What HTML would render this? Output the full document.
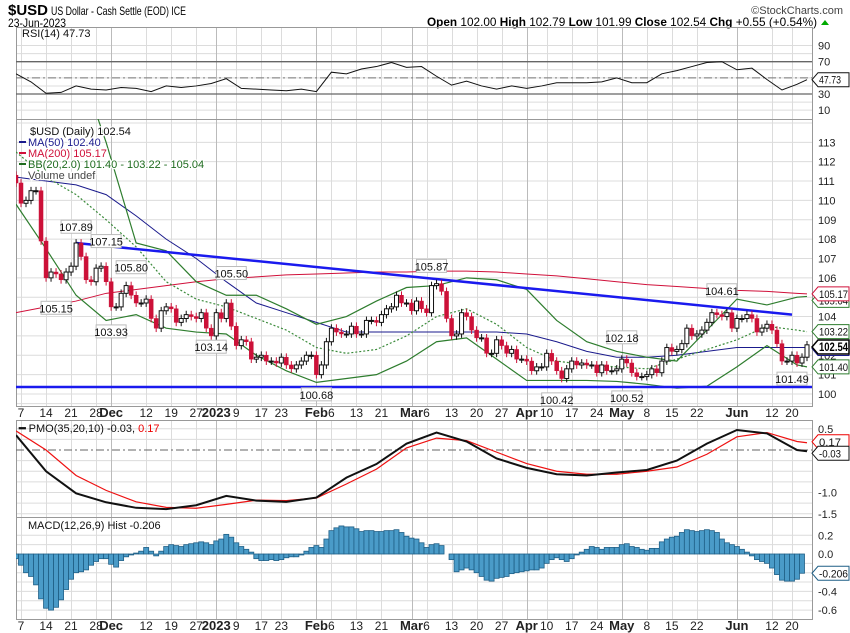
<!DOCTYPE html>
<html><head><meta charset="utf-8">
<style>
html,body{margin:0;padding:0;background:#fff;}
svg{display:block;font-family:"Liberation Sans",sans-serif;}
</style></head>
<body>
<svg id="chart" width="850" height="633" viewBox="0 0 850 633" xmlns="http://www.w3.org/2000/svg">
  <text x="8" y="15" font-size="15" font-weight="bold" textLength="40" lengthAdjust="spacingAndGlyphs">$USD</text>
  <text x="51" y="15" font-size="12" textLength="135" lengthAdjust="spacingAndGlyphs">US Dollar - Cash Settle (EOD) ICE</text>
  <text x="8" y="27" font-size="12" textLength="58" lengthAdjust="spacingAndGlyphs">23-Jun-2023</text>
  <text x="843" y="14" font-size="11" text-anchor="end" fill="#444">©StockCharts.com</text>
  <text x="427" y="26" font-size="12" textLength="390" lengthAdjust="spacingAndGlyphs"><tspan font-weight="bold">Open</tspan> 102.00 <tspan font-weight="bold">High</tspan> 102.79 <tspan font-weight="bold">Low</tspan> 101.99 <tspan font-weight="bold">Close</tspan> 102.54 <tspan font-weight="bold">Chg</tspan> +0.55 (+0.54%)</text>
  <path d="M821 25 L825 20 L829 25 Z" fill="#0a0"/>
  <g id="layer"></g>
</svg>
<script>
// ---------- DATA ----------
const closes = [110.9,
109.85,110.0,110.5,110.5,107.9,106.0,106.3,106.2,105.9,106.3,106.6,107.8,107.1,105.9,105.8,106.5,106.6,105.8,104.5,104.5,105.2,105.6,105.1,104.7,104.7,104.9,103.9,103.4,104.3,104.5,104.4,103.7,103.9,104.1,104.0,103.9,104.2,103.4,103.0,104.2,103.9,104.7,103.5,102.5,102.8,102.7,101.8,101.9,102.0,101.7,101.7,101.6,101.9,
101.5,101.3,101.5,101.7,102.0,102.0,101.0,101.5,102.7,103.4,103.2,103.1,103.1,103.5,103.1,103.1,103.8,103.8,103.7,104.1,104.4,104.5,105.1,104.7,104.7,104.3,104.8,104.4,104.2,105.6,105.7,105.3,103.9,103.0,103.1,104.2,104.0,103.3,102.9,102.9,102.1,102.1,102.8,102.5,102.1,102.3,101.8,101.8,101.7,101.2,101.4,101.4,102.1,
101.7,101.2,100.8,101.3,101.7,101.5,101.6,101.5,101.5,101.1,101.5,101.2,101.2,101.3,101.8,101.6,101.1,100.9,100.9,101.0,101.3,101.1,101.7,102.4,102.2,102.3,102.6,103.4,103.0,103.1,103.3,103.7,104.2,104.1,104.0,104.2,103.4,103.9,103.9,104.1,103.9,103.2,103.4,103.6,103.3,102.6,101.7,101.7,102.0,101.6,101.9,102.54];
const firstOpen = 111.3;
const ma50 = [111.2,111.0,110.8,110.3,109.2,108.0,107.0,105.8,104.7,104.2,103.7,103.2,103.2,103.2,103.2,103.2,103.2,103.1,102.7,102.2,101.9,101.9,102.0,102.2,102.4,102.4,102.4,102.40];
const ma200 = [104.2,104.5,104.8,105.2,105.4,105.6,105.8,105.95,106.05,106.15,106.2,106.25,106.3,106.3,106.35,106.35,106.3,106.2,106.1,105.95,105.8,105.65,105.55,105.45,105.35,105.3,105.2,105.17];
const bbUpper = [119,118.5,117.5,113.0,107.8,107.4,105.8,105.1,105.1,104.4,103.6,104.0,104.8,105.5,105.6,106.0,105.9,105.4,103.8,102.7,102.2,101.9,101.7,103.3,104.9,104.6,105.0,105.04];
const bbMid = [112.5,111.2,110.3,109.0,107.6,105.8,104.9,104.5,103.9,103.3,102.4,102.1,102.3,103.0,104.0,104.4,103.6,102.4,101.7,101.5,101.4,101.3,101.8,102.3,102.8,103.5,103.3,103.22];
const bbLower = [109.8,107.5,105.1,103.8,104.1,103.4,103.2,103.1,102.0,101.2,100.6,100.8,101.0,101.7,102.7,102.9,101.8,100.7,100.7,100.7,100.65,100.5,100.3,100.4,101.4,102.5,101.5,101.40];
const rsi = [55,45,31,32,40,36,35,38,37,33,40,38,40,43,49,37,36,35,34,36,33,57,55,61,64,69,63,64,52,41,46,40,36,40,37,40,44,44,44,45,50,44,44,55,59,64,69,70,60,62,48,35,42,47.73];
const pmo = [0.35,-0.50,-1.02,-1.23,-1.36,-1.39,-1.30,-1.08,-1.19,-1.22,-1.12,-0.65,-0.33,0.15,0.41,0.20,-0.20,-0.42,-0.57,-0.60,-0.53,-0.47,-0.25,0.15,0.47,0.39,0.00,-0.03];
const pmoSignal = [0.45,0.00,-0.60,-0.95,-1.22,-1.35,-1.37,-1.28,-1.18,-1.19,-1.13,-0.80,-0.45,0.05,0.28,0.22,-0.05,-0.32,-0.50,-0.57,-0.57,-0.50,-0.40,-0.10,0.31,0.41,0.20,0.17];
const macdHist = [-0.05,-0.12,-0.2,-0.24,-0.33,-0.48,-0.58,-0.6,-0.57,-0.49,-0.38,-0.27,-0.2,-0.19,-0.17,-0.12,-0.08,-0.05,-0.05,-0.11,-0.14,-0.07,-0.03,-0.01,0.01,0.03,0.07,0.03,-0.02,0.03,0.08,0.1,0.09,0.08,0.1,0.11,0.12,0.13,0.12,0.1,0.14,0.16,0.21,0.18,0.12,0.08,0.05,0.02,-0.05,-0.07,-0.07,-0.06,-0.07,-0.06,-0.04,-0.03,-0.03,-0.01,0.03,0.07,0.09,0.07,0.16,0.25,0.28,0.3,0.29,0.29,0.27,0.24,0.25,0.25,0.24,0.24,0.25,0.25,0.26,0.23,0.19,0.17,0.16,0.12,0.07,0.1,0.11,0.09,0.0,-0.06,-0.19,-0.17,-0.15,-0.17,-0.2,-0.24,-0.28,-0.29,-0.26,-0.25,-0.24,-0.21,-0.2,-0.19,-0.18,-0.17,-0.17,-0.15,-0.1,-0.06,-0.04,-0.06,-0.08,-0.05,-0.01,0.02,0.05,0.08,0.07,0.05,0.07,0.07,0.07,0.1,0.11,0.08,0.07,0.05,0.04,0.06,0.06,0.13,0.16,0.18,0.19,0.23,0.26,0.25,0.24,0.25,0.26,0.25,0.23,0.16,0.12,0.1,0.08,0.05,0.02,-0.02,-0.06,-0.08,-0.1,-0.15,-0.22,-0.28,-0.29,-0.29,-0.27,-0.206];
const trendStart = [12,107.8];
const trendEnd = [155,104.1];
const supportLevel = 100.36;
const peakLabels = [[12,107.89,'above'],[18,107.15,'above'],[23,105.80,'above'],[8,105.15,'below'],[19,103.93,'below'],[39,103.14,'below'],[43,105.50,'above'],[60,100.68,'below'],[83,105.87,'above'],[108,100.42,'below'],[122,100.52,'below'],[121,102.18,'above'],[141,104.61,'above'],[155,101.49,'below']];
const dateTicks = ['7','14','21','28','Dec','12','19','27','2023','9','17','23','Feb','6','13','21','Mar','6','13','20','27','Apr','10','17','24','May','8','15','22','Jun','12','20'];
const dateTickBars = [1,6,11,16,19,26,31,36,40,44,49,53,60,63,68,73,79,82,87,92,97,102,106,111,116,121,126,131,136,144,151,155];
const rsiTicks = [10,30,70,90];
const pmoTicks = [0.5,-1.0,-1.5];
const macdTicks = [0.2,0.0,-0.4,-0.6];

// ---------- SCALES ----------
const NS='http://www.w3.org/2000/svg';
const L=16, R=812;
const N=closes.length;
const step=(807-16)/(N-1);
const xBar=i=>16+i*step;
const yPrice=v=>394-(v-100)*19.36;
const yRsi=v=>61.7+(70-v)*0.808;
const yPmo=v=>450-v*42.5;
const yMacd=v=>554-v*93.5;
const panels={rsi:[27,119],price:[119,406],pmo:[420,517],macd:[517,619]};
const layer=document.getElementById('layer');
function el(tag,attrs,parent){const e=document.createElementNS(NS,tag);for(const k in attrs)e.setAttribute(k,attrs[k]);(parent||layer).appendChild(e);return e;}
function txt(s,attrs,parent){const e=el('text',attrs,parent);e.textContent=s;return e;}

const defs=el('defs',{});
for(const p in panels){const c=el('clipPath',{id:'clip-'+p},defs);el('rect',{x:L,y:panels[p][0],width:R-L,height:panels[p][1]-panels[p][0]},c);}

function panelGrid(name,hVals,yf){
  const g=el('g',{});
  
  
  const [t,b]=panels[name];
  hVals.forEach(v=>{const y=yf(v);if(y>t&&y<b)el('line',{x1:L,x2:R,y1:y,y2:y,stroke:'#dcdcdc','stroke-width':1},g);});
  dateTickBars.forEach((bi,k)=>{const x=Math.round(xBar(bi))+0.5;const bold=/[A-Za-z]|2023/.test(dateTicks[k]);el('line',{x1:x,x2:x,y1:t,y2:b,stroke:bold?'#bbb':'#dcdcdc','stroke-width':1},g);});
  const fr=el('rect',{x:L+0.5,y:t+0.5,width:R-L,height:b-t,fill:'none',stroke:'#999','stroke-width':1});
  
  
}
panelGrid('rsi',[10,20,40,50,60,80,90],yRsi);
panelGrid('price',[99.5,100,101,102,103,104,105,106,107,108,109,110,111,112,113,114],yPrice);
panelGrid('pmo',[0.5,0.25,-0.25,-0.5,-0.75,-1.0,-1.25,-1.5],yPmo);
panelGrid('macd',[0.2,0.1,-0.1,-0.2,-0.3,-0.4,-0.5,-0.6],yMacd);

function dateAxis(y,name){
  const g=el('g',{});
  
  
  dateTicks.forEach((s,k)=>{const bold=/[A-Za-z]|2023/.test(s);
    const t=txt(s,{x:xBar(dateTickBars[k]),y:y,'font-size':bold?13:12,'font-weight':bold?'bold':'normal','text-anchor':'middle',fill:'#222'},g);
    
    
  });
}
dateAxis(417,'price-date-axis');
dateAxis(630,'macd-date-axis');

function rightLabels(vals,yf,fmt,name){vals.forEach(v=>{const t=txt(fmt(v),{x:818,y:yf(v)+4,'font-size':11,fill:'#222'});
  
  });}
rightLabels([90,70,30,10],yRsi,v=>String(v),'rsi-axis-label');
rightLabels([104,106,107,108,109,110,111,112,113,100,102,101],yPrice,v=>String(v),'price-axis-label');
rightLabels(pmoTicks,yPmo,v=>v.toFixed(1),'pmo-axis-label');
rightLabels(macdTicks,yMacd,v=>v.toFixed(1),'macd-axis-label');

// ---------- RSI ----------
const rsiG=el('g',{'clip-path':'url(#clip-rsi)'});


[70,30].forEach(v=>el('line',{x1:L,x2:R,y1:yRsi(v),y2:yRsi(v),stroke:'#666','stroke-width':1.3},rsiG));
el('line',{x1:L,x2:R,y1:yRsi(50),y2:yRsi(50),stroke:'#777','stroke-width':1,'stroke-dasharray':'8,3,2,3'},rsiG);
const rsiIdx=i=>i===rsi.length-1?N-1:i*3;
const rsiLine=el('polyline',{points:rsi.map((v,i)=>xBar(rsiIdx(i))+','+yRsi(v)).join(' '),fill:'none',stroke:'#111','stroke-width':1},rsiG);


const rsiLbl=txt('RSI(14) 47.73',{x:22,y:37,'font-size':11,fill:'#111'});



// ---------- PRICE ----------
const pg=el('g',{'clip-path':'url(#clip-price)'});


const sIdx=i=>i===27?N-1:i*6;
function line(arr,yf,color,w,dash,name,parent){
  const p=el('polyline',{points:arr.map((v,i)=>xBar(sIdx(i))+','+yf(v)).join(' '),fill:'none',stroke:color,'stroke-width':w},parent);
  if(dash)p.setAttribute('stroke-dasharray',dash);
  
  
  return p;
}
line(ma200,yPrice,'#d0103a',1,null,'ma200-line',pg);
line(ma50,yPrice,'#1a1a8c',1,null,'ma50-line',pg);
line(bbUpper,yPrice,'#2e7d2e',1.2,null,'bb-upper-line',pg);
line(bbLower,yPrice,'#2e7d2e',1.2,null,'bb-lower-line',pg);
line(bbMid,yPrice,'#3a8a3a',1.2,'2,2','bb-middle-line',pg);
const tl=el('line',{x1:xBar(trendStart[0]),y1:yPrice(trendStart[1]),x2:xBar(trendEnd[0]),y2:yPrice(trendEnd[1]),stroke:'#1a1aee','stroke-width':2.5},pg);


const sl=el('line',{x1:L,x2:R,y1:yPrice(supportLevel),y2:yPrice(supportLevel),stroke:'#1a1aee','stroke-width':2.5},pg);


for(let i=0;i<N;i++){
  const o=i===0?firstOpen:closes[i-1], c=closes[i];
  const up=c>=o, x=xBar(i);
  const hi=Math.max(o,c)+0.2, lo=Math.min(o,c)-0.2;
  const col=up?'#111':'#cc1138';
  const w=el('line',{x1:x,x2:x,y1:yPrice(hi),y2:yPrice(lo),stroke:col,'stroke-width':1},pg);
  
  
  const top=yPrice(Math.max(o,c)), h=Math.max(1,yPrice(Math.min(o,c))-top);
  const b=el('rect',{x:x-2,y:top,width:4,height:h,fill:up?'#fff':'#cc1138',stroke:up?'#111':'#cc1138','stroke-width':up?1:0.5},pg);
  
  
}
peakLabels.forEach(([bi,v,pos])=>{
  const x=xBar(bi), s=v.toFixed(2);
  const y=pos==='above'?yPrice(v)-14:yPrice(v)+14;
  const g=el('g',{});
  
  
  el('rect',{x:x-15,y:y-7,width:30,height:13,fill:'#fff',stroke:'#bbb','stroke-width':1},g);
  txt(s,{x:x,y:y+4,'font-size':11,'text-anchor':'middle',fill:'#111'},g);
});
const legend=[['$USD (Daily) 102.54','#111'],['MA(50) 102.40','#1a1a8c'],['MA(200) 105.17','#d0103a'],['BB(20,2.0) 101.40 - 103.22 - 105.04','#1e6b1e'],['Volume undef','#444']];
legend.forEach(([s,c],k)=>{
  const y=135+k*11;
  if(k>0&&k<4){const m=el('line',{x1:19,x2:26,y1:y-4,y2:y-4,stroke:c,'stroke-width':2});
    
    }
  const t=txt(s,{x:k===0?30:28,y:y,'font-size':11,fill:c,stroke:'#fff','stroke-width':2.5,'paint-order':'stroke'});
  
  
});
function tag(v,yf,s,color,bold,name,yOverride){
  const y=yOverride||yf(v), g=el('g',{});
  
  
  el('path',{d:`M812 ${y} L818 ${y-7} L849 ${y-7} L849 ${y+7} L818 ${y+7} Z`,fill:'#fff',stroke:color,'stroke-width':bold?1.5:1},g);
  txt(s,{x:819,y:y+4,'font-size':bold?12:11,'font-weight':bold?'bold':'normal',fill:bold?'#000':'#111',textLength:s.length>5?29:22,lengthAdjust:'spacingAndGlyphs'},g);
}
tag(105.04,yPrice,'105.04','#2e7d2e',false,'bb-upper-tag',yPrice(105.04)+4);
tag(105.17,yPrice,'105.17','#d0103a',false,'ma200-tag');
tag(103.22,yPrice,'103.22','#2e7d2e',false,'bb-mid-tag');
tag(102.40,yPrice,'102.40','#1a1a8c',false,'ma50-tag',yPrice(102.40)+1);
tag(102.54,yPrice,'102.54','#000',true,'last-price-tag',347);
tag(101.40,yPrice,'101.40','#2e7d2e',false,'bb-lower-tag');

// ---------- PMO ----------
const pmoG=el('g',{'clip-path':'url(#clip-pmo)'});


el('line',{x1:L,x2:R,y1:yPmo(0),y2:yPmo(0),stroke:'#666','stroke-width':1,'stroke-dasharray':'8,3,2,3'},pmoG);
line(pmoSignal,yPmo,'#ee1111',1.2,null,'pmo-signal-line',pmoG);
line(pmo,yPmo,'#111',2,null,'pmo-line',pmoG);
const pmoLbl=txt('',{x:19,y:432,'font-size':11,fill:'#111'});
pmoLbl.innerHTML='<tspan font-weight="bold">━</tspan> PMO(35,20,10) -0.03, <tspan fill="#e00">0.17</tspan>';


tag(0.17,yPmo,'0.17','#e00',false,'pmo-signal-tag',yPmo(0.17)-1);
tag(-0.03,yPmo,'-0.03','#111',false,'pmo-tag',yPmo(-0.03)+2);

// ---------- MACD ----------
const mG=el('g',{'clip-path':'url(#clip-macd)'});


macdHist.forEach((v,i)=>{
  const y0=yMacd(0), y1=yMacd(v), x=xBar(i);
  const b=el('rect',{x:x-2.5,y:Math.min(y0,y1),width:5,height:Math.abs(y1-y0),fill:'#4a9bc8',stroke:'#1f5f86','stroke-width':0.8},mG);
  
  
});
const mLbl=txt('MACD(12,26,9) Hist -0.206',{x:28,y:529,'font-size':11,fill:'#111'});


tag(-0.206,yMacd,'-0.206','#1f5f86',false,'macd-hist-tag');
tag(47.73,yRsi,'47.73','#111',false,'rsi-tag');
</script>
</body></html>
